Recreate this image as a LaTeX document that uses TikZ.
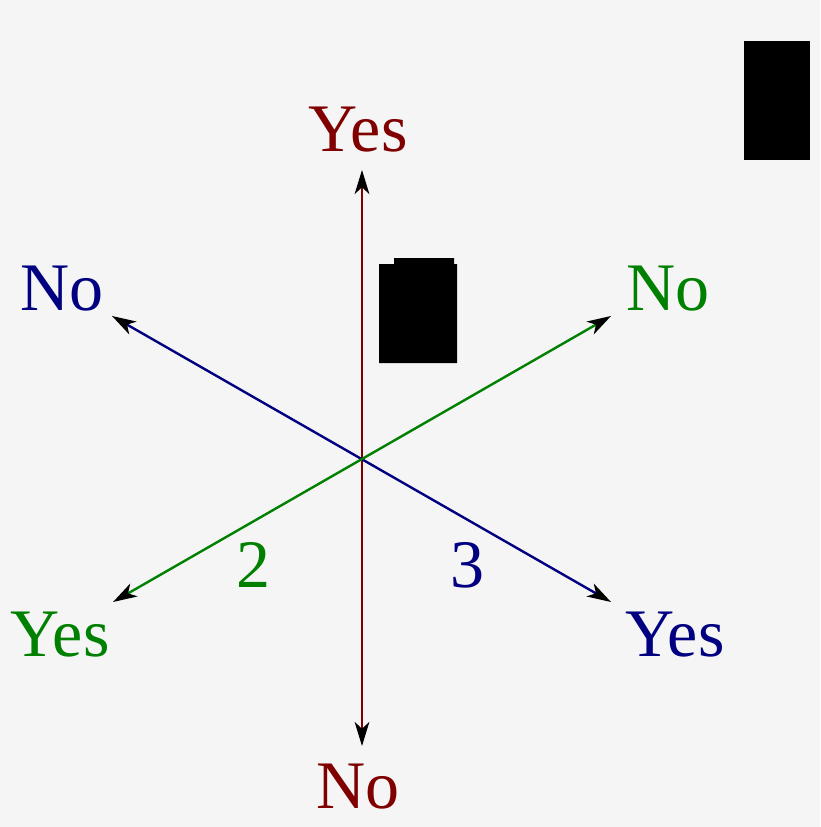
\documentclass[tikz,border=0pt]{standalone}
\usepackage{fontspec}
\setmainfont{Liberation Serif}
\usetikzlibrary{arrows.meta}
\definecolor{bgpaper}{RGB}{245,245,245}
\definecolor{axred}{RGB}{128,0,0}
\definecolor{axblue}{RGB}{0,0,128}
\definecolor{axgreen}{RGB}{0,128,0}
\tikzset{
  axisline/.style={line width=1.8pt,{Stealth[length=18pt,width=11pt,inset=5pt,black]}-{Stealth[length=18pt,width=11pt,inset=5pt,black]}},
  anslabel/.style={anchor=base,inner sep=0pt,font=\fontsize{51}{60}\selectfont}
}
\begin{document}
\begin{tikzpicture}[x=0.75pt,y=0.75pt,yscale=-1,xscale=1]
%set diagram size 820 x 827
\fill [bgpaper] (0,0) rectangle (820,827);
\useasboundingbox (0,0) rectangle (820,827);

%Coordinates: centre and arrow tips
\coordinate (O) at (362,459);
\coordinate (redtop) at (362,170);
\coordinate (redbot) at (362,746);
\coordinate (bluetl) at (112,316);
\coordinate (bluebr) at (611,602);
\coordinate (greentr) at (611,316);
\coordinate (greenbl) at (113,602);

%Straight Lines
\draw [axisline,axred] (redtop) -- (redbot);
%Straight Lines
\draw [axisline,axblue] (bluetl) -- (bluebr);
%Straight Lines
\draw [axisline,axgreen] (greentr) -- (greenbl);

% Text Node
\node [anslabel,axred] (yesred) at (358,152) {Yes};
% Text Node
\node [anslabel,axred] (nored) at (358,808) {No};
% Text Node
\node [anslabel,axblue] (noblue) at (62,310) {No};
% Text Node
\node [anslabel,axblue] (yesblue) at (675,656) {Yes};
% Text Node
\node [anslabel,axgreen] (nogreen) at (668,310) {No};
% Text Node
\node [anslabel,axgreen] (yesgreen) at (60,656) {Yes};
% Text Node
\node [anslabel,axgreen] (twogreen) at (253,587) {2};
% Text Node
\node [anslabel,axblue] (threeblue) at (467,587) {3};

%Shape: black blocks
\fill [black] (379,264) -- (394,264) -- (394,258) -- (454,258) -- (454,264) -- (457,264) -- (457,363) -- (379,363) -- cycle;
\fill [black] (744,41) rectangle (810,160);

\end{tikzpicture}
\end{document}
